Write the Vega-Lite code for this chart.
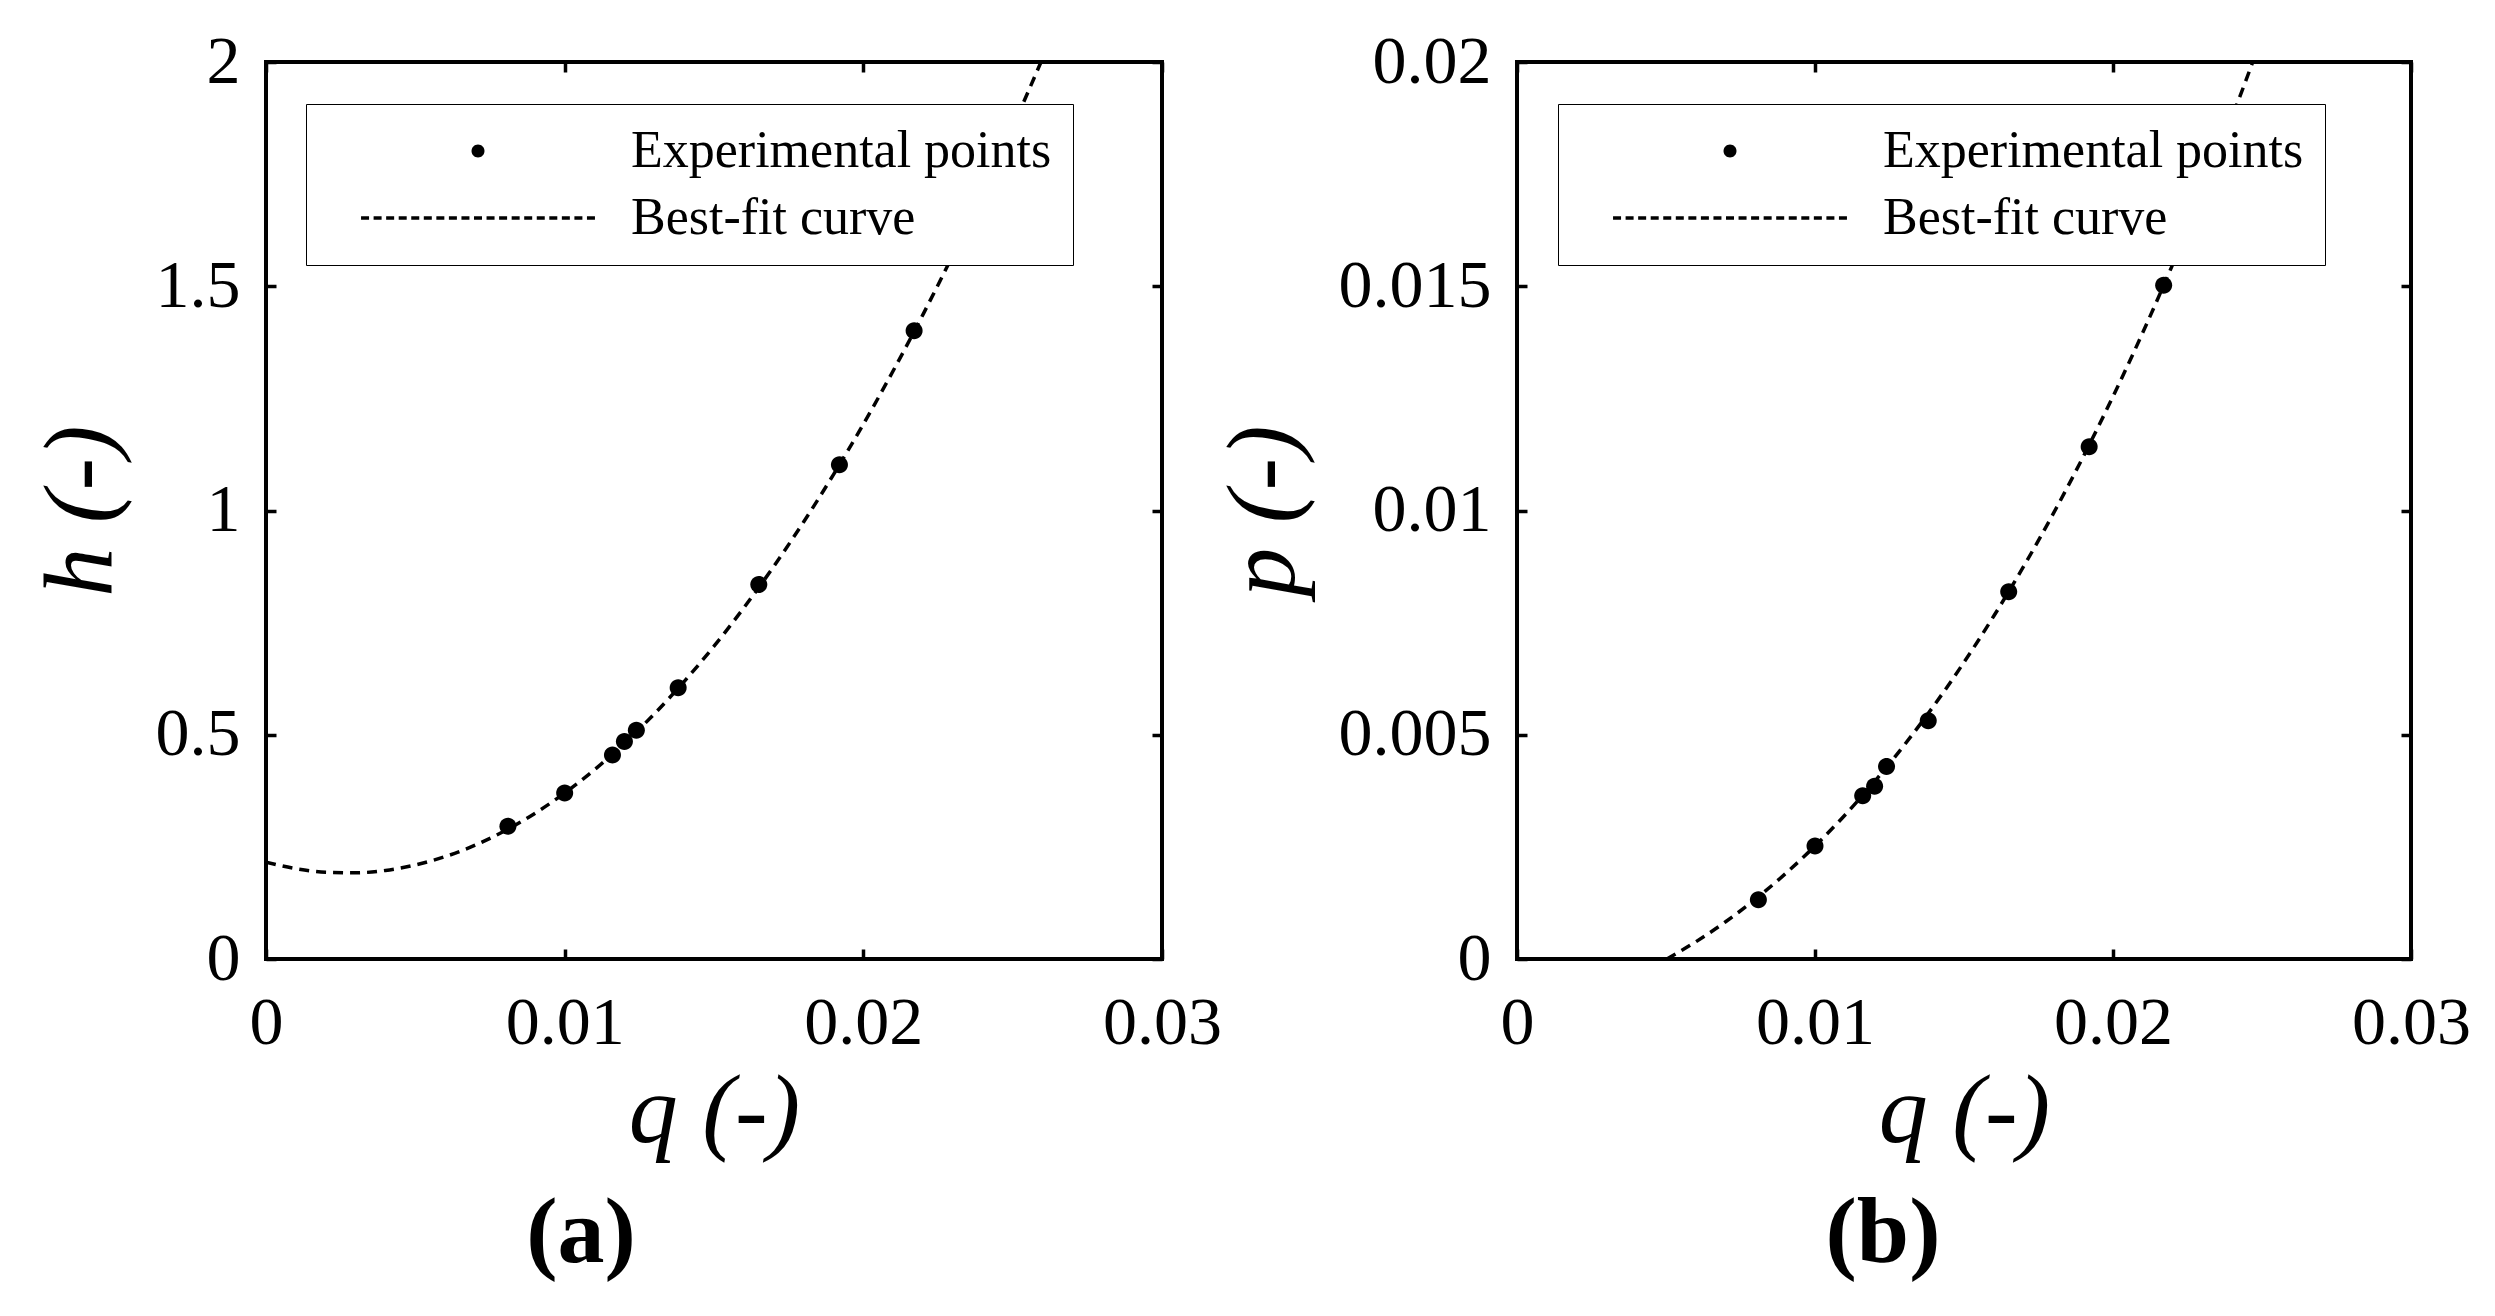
{
  "$schema": "https://vega.github.io/schema/vega-lite/v6.json",
  "background": "white",
  "padding": {"left": 30, "top": 26, "right": 0, "bottom": 0},
  "autosize": {"type": "pad"},
  "spacing": -11,
  "datasets": {
    "pts": [
      {"q": 0.0081, "h": 0.296, "p": 0.00132, "series": "Experimental points"},
      {"q": 0.0100, "h": 0.370, "p": 0.00252, "series": "Experimental points"},
      {"q": 0.0116, "h": 0.455, "p": 0.00364, "series": "Experimental points"},
      {"q": 0.0120, "h": 0.485, "p": 0.00385, "series": "Experimental points"},
      {"q": 0.0124, "h": 0.510, "p": 0.00429, "series": "Experimental points"},
      {"q": 0.0138, "h": 0.605, "p": 0.00531, "series": "Experimental points"},
      {"q": 0.0165, "h": 0.835, "p": 0.00819, "series": "Experimental points"},
      {"q": 0.0192, "h": 1.102, "p": 0.01142, "series": "Experimental points"},
      {"q": 0.0217, "h": 1.401, "p": 0.01502, "series": "Experimental points"}
    ],
    "fit_h": [
      {"q": 0.000, "h": 0.2160}, {"q": 0.001, "h": 0.2014}, {"q": 0.002, "h": 0.1934},
      {"q": 0.003, "h": 0.1922}, {"q": 0.004, "h": 0.1975}, {"q": 0.005, "h": 0.2096},
      {"q": 0.006, "h": 0.2283}, {"q": 0.007, "h": 0.2537}, {"q": 0.008, "h": 0.2858},
      {"q": 0.009, "h": 0.3246}, {"q": 0.010, "h": 0.3700}, {"q": 0.011, "h": 0.4221},
      {"q": 0.012, "h": 0.4809}, {"q": 0.013, "h": 0.5464}, {"q": 0.014, "h": 0.6186},
      {"q": 0.015, "h": 0.6975}, {"q": 0.016, "h": 0.7831}, {"q": 0.017, "h": 0.8754},
      {"q": 0.018, "h": 0.9744}, {"q": 0.019, "h": 1.0801}, {"q": 0.020, "h": 1.1925},
      {"q": 0.021, "h": 1.3116}, {"q": 0.022, "h": 1.4374}, {"q": 0.023, "h": 1.5699},
      {"q": 0.024, "h": 1.7091}, {"q": 0.025, "h": 1.8551}, {"q": 0.026, "h": 2.0078}
    ],
    "fit_p": [
      {"q": 0.00503, "p": 0.0}, {"q": 0.006, "p": 0.000383}, {"q": 0.007, "p": 0.00083},
      {"q": 0.008, "p": 0.001334}, {"q": 0.009, "p": 0.001897}, {"q": 0.010, "p": 0.00252},
      {"q": 0.011, "p": 0.003206}, {"q": 0.012, "p": 0.003956}, {"q": 0.013, "p": 0.004773},
      {"q": 0.014, "p": 0.005659}, {"q": 0.015, "p": 0.006616}, {"q": 0.016, "p": 0.007647},
      {"q": 0.017, "p": 0.008752}, {"q": 0.018, "p": 0.009935}, {"q": 0.019, "p": 0.011198},
      {"q": 0.020, "p": 0.012542}, {"q": 0.021, "p": 0.013969}, {"q": 0.022, "p": 0.015483},
      {"q": 0.023, "p": 0.017085}, {"q": 0.024, "p": 0.018777}, {"q": 0.025, "p": 0.020561}
    ]
  },
  "hconcat": [
    {
      "width": 896,
      "height": 897,
      "title": {"text": "(a)", "orient": "bottom", "anchor": "middle", "frame": "group", "dx": -133, "offset": 27},
      "layer": [
        {
          "data": {"name": "fit_h"},
          "mark": {"type": "line", "color": "black", "strokeWidth": 3.5, "strokeDash": [10, 7], "clip": true, "interpolate": "monotone"},
          "encoding": {
            "x": {"field": "q", "type": "quantitative", "scale": {"domain": [0, 0.03], "nice": false, "zero": false},
                  "axis": {"orient": "bottom", "values": [0, 0.01, 0.02, 0.03], "labelExpr": "'' + datum.value", "title": "q  (-)"}},
            "y": {"field": "h", "type": "quantitative", "scale": {"domain": [0, 2], "nice": false},
                  "axis": {"orient": "left", "values": [0, 0.5, 1, 1.5, 2], "labelExpr": "'' + datum.value", "title": "h  (-)"}}
          }
        },
        {
          "data": {"name": "pts"},
          "mark": {"type": "point", "filled": true, "color": "black", "size": 171, "opacity": 1, "strokeWidth": 0},
          "encoding": {
            "x": {"field": "q", "type": "quantitative",
                  "axis": {"orient": "top", "values": [0, 0.01, 0.02, 0.03], "labels": false, "title": null}},
            "y": {"field": "h", "type": "quantitative",
                  "axis": {"orient": "right", "values": [0, 0.5, 1, 1.5, 2], "labels": false, "title": null}},
            "shape": {
              "field": "series", "type": "nominal",
              "scale": {"domain": ["Experimental points", "Best-fit curve"],
                        "range": ["M-1.3,0A1.3,1.3,0,1,1,1.3,0A1.3,1.3,0,1,1,-1.3,0Z",
                                  "M-23.39,-0.35H-21.79V0.35H-23.39ZM-20.88,-0.35H-19.28V0.35H-20.88ZM-18.37,-0.35H-16.77V0.35H-18.37ZM-15.86,-0.35H-14.26V0.35H-15.86ZM-13.35,-0.35H-11.75V0.35H-13.35ZM-10.84,-0.35H-9.24V0.35H-10.84ZM-8.33,-0.35H-6.73V0.35H-8.33ZM-5.82,-0.35H-4.22V0.35H-5.82ZM-3.31,-0.35H-1.71V0.35H-3.31ZM-0.8,-0.35H0.8V0.35H-0.8ZM1.71,-0.35H3.31V0.35H1.71ZM4.22,-0.35H5.82V0.35H4.22ZM6.73,-0.35H8.33V0.35H6.73ZM9.24,-0.35H10.84V0.35H9.24ZM11.75,-0.35H13.35V0.35H11.75ZM14.26,-0.35H15.86V0.35H14.26ZM16.77,-0.35H18.37V0.35H16.77ZM19.28,-0.35H20.88V0.35H19.28ZM21.79,-0.35H23.39V0.35H21.79Z"]},
              "legend": {
                "title": null, "orient": "none", "legendX": 40, "legendY": 42, "direction": "vertical",
                "labelFont": "Liberation Serif", "labelFontSize": 52, "labelLimit": 2000, "labelOffset": 127,
                "symbolOffset": 125, "labelColor": "black", "symbolSize": 100, "rowPadding": 15, "padding": 21,
                "strokeColor": "black", "fillColor": "white",
                "encode": {
                  "legend": {"update": {"stroke": {"value": "black"}, "strokeWidth": {"value": 4}, "fill": {"value": "white"}}},
                  "symbols": {"update": {"fill": {"value": "black"}, "strokeWidth": {"value": 0}, "opacity": {"value": 1}}}
                }
              }
            }
          }
        }
      ],
      "resolve": {"axis": {"x": "independent", "y": "independent"}}
    },
    {
      "width": 894,
      "height": 897,
      "title": {"text": "(b)", "orient": "bottom", "anchor": "middle", "frame": "group", "dx": -81, "offset": 27},
      "layer": [
        {
          "data": {"name": "fit_p"},
          "mark": {"type": "line", "color": "black", "strokeWidth": 3.5, "strokeDash": [10, 7], "clip": true, "interpolate": "monotone"},
          "encoding": {
            "x": {"field": "q", "type": "quantitative", "scale": {"domain": [0, 0.03], "nice": false, "zero": false},
                  "axis": {"orient": "bottom", "values": [0, 0.01, 0.02, 0.03], "labelExpr": "'' + datum.value", "title": "q  (-)"}},
            "y": {"field": "p", "type": "quantitative", "scale": {"domain": [0, 0.02], "nice": false},
                  "axis": {"orient": "left", "values": [0, 0.005, 0.01, 0.015, 0.02], "labelExpr": "'' + datum.value", "title": "p  (-)"}}
          }
        },
        {
          "data": {"name": "pts"},
          "mark": {"type": "point", "filled": true, "color": "black", "size": 171, "opacity": 1, "strokeWidth": 0},
          "encoding": {
            "x": {"field": "q", "type": "quantitative",
                  "axis": {"orient": "top", "values": [0, 0.01, 0.02, 0.03], "labels": false, "title": null}},
            "y": {"field": "p", "type": "quantitative",
                  "axis": {"orient": "right", "values": [0, 0.005, 0.01, 0.015, 0.02], "labels": false, "title": null}},
            "shape": {
              "field": "series", "type": "nominal",
              "scale": {"domain": ["Experimental points", "Best-fit curve"],
                        "range": ["M-1.3,0A1.3,1.3,0,1,1,1.3,0A1.3,1.3,0,1,1,-1.3,0Z",
                                  "M-23.39,-0.35H-21.79V0.35H-23.39ZM-20.88,-0.35H-19.28V0.35H-20.88ZM-18.37,-0.35H-16.77V0.35H-18.37ZM-15.86,-0.35H-14.26V0.35H-15.86ZM-13.35,-0.35H-11.75V0.35H-13.35ZM-10.84,-0.35H-9.24V0.35H-10.84ZM-8.33,-0.35H-6.73V0.35H-8.33ZM-5.82,-0.35H-4.22V0.35H-5.82ZM-3.31,-0.35H-1.71V0.35H-3.31ZM-0.8,-0.35H0.8V0.35H-0.8ZM1.71,-0.35H3.31V0.35H1.71ZM4.22,-0.35H5.82V0.35H4.22ZM6.73,-0.35H8.33V0.35H6.73ZM9.24,-0.35H10.84V0.35H9.24ZM11.75,-0.35H13.35V0.35H11.75ZM14.26,-0.35H15.86V0.35H14.26ZM16.77,-0.35H18.37V0.35H16.77ZM19.28,-0.35H20.88V0.35H19.28ZM21.79,-0.35H23.39V0.35H21.79Z"]},
              "legend": {
                "title": null, "orient": "none", "legendX": 41, "legendY": 42, "direction": "vertical",
                "labelFont": "Liberation Serif", "labelFontSize": 52, "labelLimit": 2000, "labelOffset": 127,
                "symbolOffset": 125, "labelColor": "black", "symbolSize": 100, "rowPadding": 15, "padding": 21,
                "strokeColor": "black", "fillColor": "white",
                "encode": {
                  "legend": {"update": {"stroke": {"value": "black"}, "strokeWidth": {"value": 4}, "fill": {"value": "white"}}},
                  "symbols": {"update": {"fill": {"value": "black"}, "strokeWidth": {"value": 0}, "opacity": {"value": 1}}}
                }
              }
            }
          }
        }
      ],
      "resolve": {"axis": {"x": "independent", "y": "independent"}}
    }
  ],
  "resolve": {"scale": {"shape": "independent"}, "legend": {"shape": "independent"}},
  "config": {
    "font": "Liberation Serif",
    "view": {"stroke": "black", "strokeWidth": 4},
    "axis": {
      "domain": false, "grid": false, "ticks": true, "tickSize": -10, "tickWidth": 3.5, "tickColor": "black",
      "labelFont": "Liberation Serif", "labelFontSize": 68, "labelColor": "black", "labelFlush": false, "labelOverlap": false,
      "titleFont": "Liberation Serif", "titleFontSize": 98, "titleFontStyle": "italic", "titleFontWeight": "normal", "titleColor": "black"
    },
    "axisX": {"labelPadding": 40, "titlePadding": 7},
    "axisY": {"labelPadding": 36, "titlePadding": 24},
    "title": {"font": "Liberation Serif", "fontSize": 94, "fontWeight": "bold", "color": "black"}
  }
}
